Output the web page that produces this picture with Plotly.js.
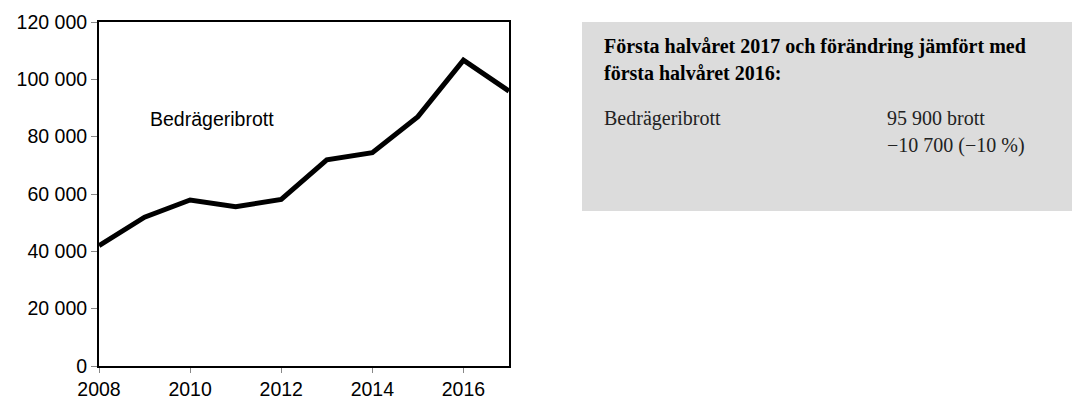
<!DOCTYPE html>
<html>
<head>
<meta charset="utf-8">
<script src="https://cdn.plot.ly/plotly-3.0.1.min.js"></script>
<style>html,body{margin:0;padding:0;background:#fff;}#chart{width:1072px;height:400px;}</style>
</head>
<body>
<div id="chart"></div>
<script>
const years = [2008, 2009, 2010, 2011, 2012, 2013, 2014, 2015, 2016, 2017];
const fraud = [42000, 51900, 57900, 55600, 58100, 71900, 74400, 87000, 106700, 95900];
const yTickVals = [0, 20000, 40000, 60000, 80000, 100000, 120000];
const yTickText = ['0', '20 000', '40 000', '60 000', '80 000', '100 000', '120 000'];
const xTickVals = [2008, 2010, 2012, 2014, 2016];
const seriesName = 'Bedrägeribrott';
const boxTitle = ['Första halvåret 2017 och förändring jämfört med', 'första halvåret 2016:'];
const boxRowLabel = 'Bedrägeribrott';
const boxRowValues = ['95 900 brott', '−10 700 (−10 %)'];

const sans = 'Liberation Sans, Arial, sans-serif';
const serif = 'Liberation Serif, Times New Roman, serif';

const plotL = 99, plotR = 509, plotT = 22, plotB = 366, W = 1072;
const pw = plotR - plotL, ph = plotB - plotT;
const px = x => (x - plotL) / pw;
const py = y => (plotB - y) / ph;
const serifSize = 20;

const annotations = [
  {x: 2009.08, y: 86200, xref: 'x', yref: 'y', xanchor: 'left', yanchor: 'middle', showarrow: false,
   text: seriesName, font: {family: sans, size: 19.5, color: '#000'}},
  {x: px(602), y: py(46), xref: 'paper', yref: 'paper', xanchor: 'left', yanchor: 'middle', showarrow: false,
   text: '<b>' + boxTitle[0] + '</b>', font: {family: serif, size: serifSize, color: '#000'}},
  {x: px(602), y: py(73), xref: 'paper', yref: 'paper', xanchor: 'left', yanchor: 'middle', showarrow: false,
   text: '<b>' + boxTitle[1] + '</b>', font: {family: serif, size: serifSize, color: '#000'}},
  {x: px(602), y: py(118), xref: 'paper', yref: 'paper', xanchor: 'left', yanchor: 'middle', showarrow: false,
   text: boxRowLabel, font: {family: serif, size: serifSize, color: '#222'}},
  {x: px(885), y: py(118), xref: 'paper', yref: 'paper', xanchor: 'left', yanchor: 'middle', showarrow: false,
   text: boxRowValues[0], font: {family: serif, size: serifSize, color: '#222'}},
  {x: px(885), y: py(145), xref: 'paper', yref: 'paper', xanchor: 'left', yanchor: 'middle', showarrow: false,
   text: boxRowValues[1], font: {family: serif, size: serifSize, color: '#222'}}
];

const shapes = [
  {type: 'rect', xref: 'paper', yref: 'paper', x0: px(582), x1: px(W + 5), y0: py(211), y1: py(22),
   fillcolor: '#dcdcdc', line: {width: 0}, layer: 'below'}
];

Plotly.newPlot('chart', [{
  x: years, y: fraud, type: 'scatter', mode: 'lines', name: seriesName,
  line: {color: '#000', width: 5}, cliponaxis: false
}], {
  width: 1072, height: 400,
  margin: {l: plotL, r: W - plotR, t: plotT, b: 400 - plotB, pad: 0},
  paper_bgcolor: '#fff', plot_bgcolor: '#fff',
  showlegend: false,
  xaxis: {
    range: [2008, 2017], tickvals: xTickVals, ticks: 'outside', ticklen: 5, tickcolor: '#888', tickwidth: 1,
    showgrid: false, zeroline: false, showline: true, linecolor: '#000', linewidth: 2, mirror: true,
    tickfont: {family: sans, size: 19.5, color: '#000'}
  },
  yaxis: {
    range: [0, 120000], tickvals: yTickVals, ticktext: yTickText, ticks: 'outside', ticklen: 6, tickcolor: '#888', tickwidth: 1,
    showgrid: false, zeroline: false, showline: true, linecolor: '#000', linewidth: 2, mirror: true,
    tickfont: {family: sans, size: 19.5, color: '#000'}
  },
  annotations: annotations,
  shapes: shapes
}, {displayModeBar: false, staticPlot: true});
</script>
</body>
</html>
